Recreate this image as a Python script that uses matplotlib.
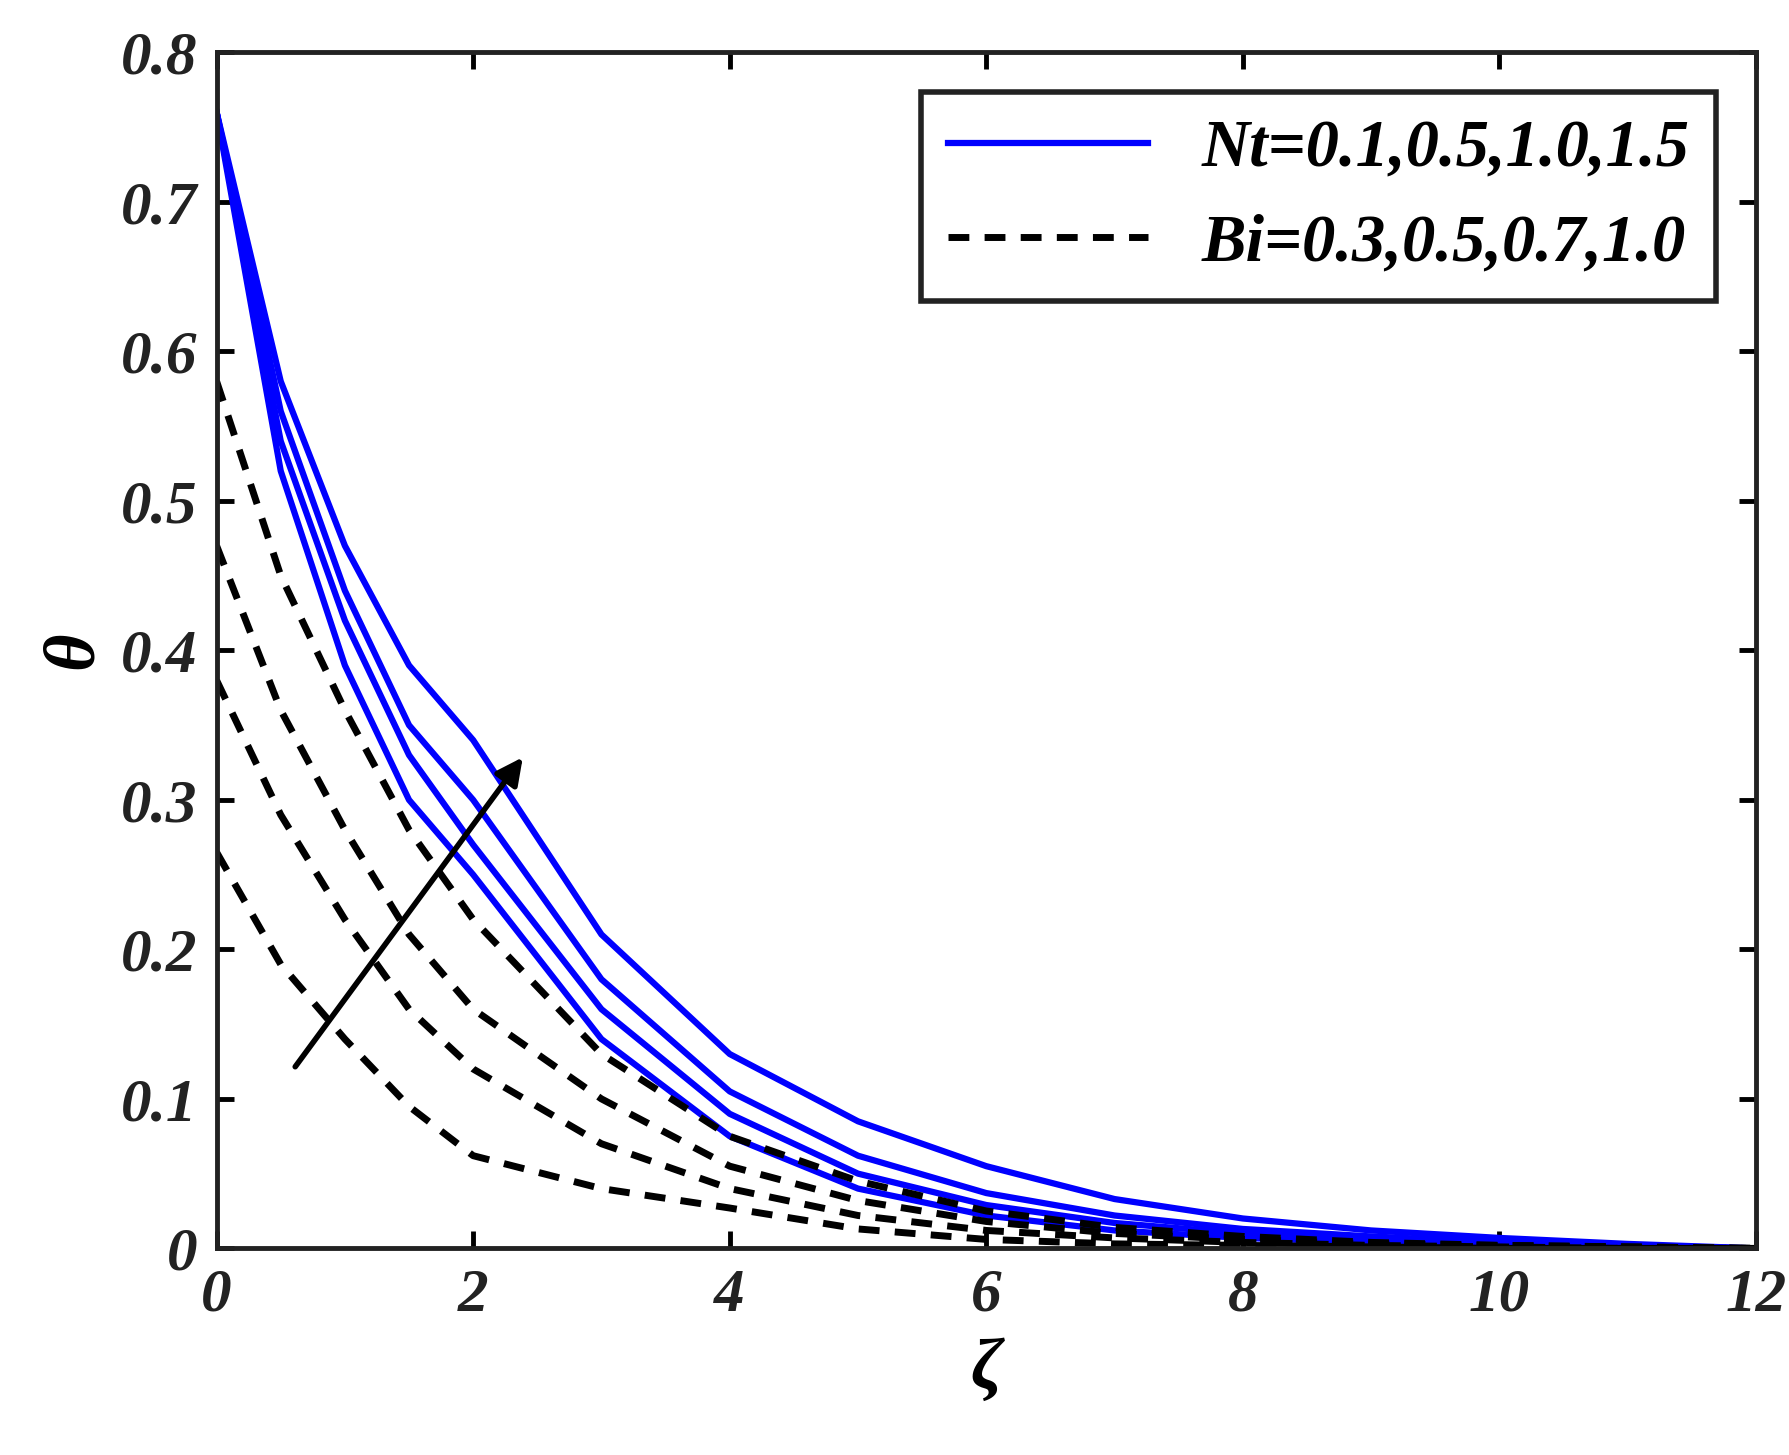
import matplotlib
matplotlib.use("Agg")
import matplotlib.pyplot as plt

zeta = [0, 0.5, 1, 1.5, 2, 3, 4, 5, 6, 7, 8, 9, 10, 11, 12]
nt_curves = [
    [0.76, 0.52, 0.39, 0.30, 0.25, 0.14, 0.075, 0.040, 0.022, 0.012, 0.007, 0.004, 0.002, 0.001, 0.0],
    [0.76, 0.54, 0.42, 0.33, 0.27, 0.16, 0.090, 0.050, 0.029, 0.017, 0.010, 0.006, 0.003, 0.001, 0.0],
    [0.76, 0.56, 0.44, 0.35, 0.30, 0.18, 0.105, 0.062, 0.037, 0.022, 0.013, 0.008, 0.004, 0.002, 0.0],
    [0.76, 0.58, 0.47, 0.39, 0.34, 0.21, 0.130, 0.085, 0.055, 0.033, 0.020, 0.012, 0.007, 0.003, 0.0],
]
bi_curves = [
    [0.58, 0.45, 0.36, 0.28, 0.22, 0.13, 0.075, 0.045, 0.025, 0.014, 0.008, 0.004, 0.002, 0.001, 0.0],
    [0.47, 0.36, 0.28, 0.21, 0.16, 0.10, 0.055, 0.032, 0.018, 0.010, 0.006, 0.003, 0.002, 0.001, 0.0],
    [0.38, 0.29, 0.22, 0.16, 0.12, 0.07, 0.040, 0.022, 0.012, 0.007, 0.004, 0.002, 0.001, 0.0, 0.0],
    [0.265, 0.19, 0.14, 0.095, 0.062, 0.04, 0.027, 0.013, 0.006, 0.003, 0.002, 0.001, 0.0, 0.0, 0.0],
]
nt_label = "Nt=0.1,0.5,1.0,1.5"
bi_label = "Bi=0.3,0.5,0.7,1.0"
xticks = [0, 2, 4, 6, 8, 10, 12]
yticks = [0, 0.1, 0.2, 0.3, 0.4, 0.5, 0.6, 0.7, 0.8]

plt.rcParams['font.family'] = ['Liberation Serif', 'DejaVu Serif']
fig = plt.figure(figsize=(17.9, 14.55), dpi=100)
ax = fig.add_axes([0.121, 0.142, 0.86, 0.822])
for i, c in enumerate(nt_curves):
    ax.plot(zeta, c, color='#0000ff', lw=4.5, label=nt_label if i == 0 else None)
for i, c in enumerate(bi_curves):
    ax.plot(zeta, c, color='black', lw=5, ls=(0, (3, 2.2)), label=bi_label if i == 0 else None)
ax.annotate('', xy=(2.4, 0.33), xytext=(0.6, 0.12),
            arrowprops=dict(arrowstyle='-|>', color='black', lw=4, mutation_scale=40))
ax.set_xlim(0, 12)
ax.set_ylim(0, 0.8)
ax.set_xticks(xticks)
ax.set_yticks(yticks)
ax.set_xticklabels([str(t) for t in xticks])
ax.set_yticklabels(['0' if t == 0 else f"{t:.1f}" for t in yticks])
ax.tick_params(direction='in', top=True, right=True, length=12, width=3.5, labelsize=44, pad=14)
for lab in ax.get_xticklabels() + ax.get_yticklabels():
    lab.set_fontweight('bold'); lab.set_fontstyle('italic'); lab.set_color('#222222')
for s in ax.spines.values():
    s.set_linewidth(3.5); s.set_color('#222222')
ax.set_xlabel('ζ', fontsize=52, fontstyle='italic', fontweight='bold', labelpad=10)
ax.set_ylabel('θ', fontsize=52, fontstyle='italic', fontweight='bold', labelpad=10)
leg = ax.legend(loc='upper right', fontsize=48, handlelength=3,
                prop=dict(size=48, weight='bold', style='italic'),
                fancybox=False, edgecolor='#222222', framealpha=1, borderaxespad=0.6)
leg.get_frame().set_linewidth(4)
fig.savefig('out.png', dpi=100)
